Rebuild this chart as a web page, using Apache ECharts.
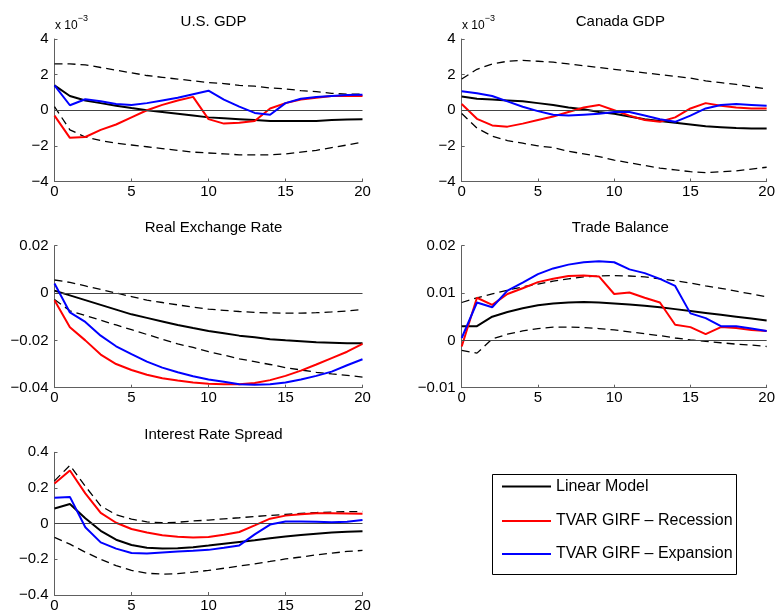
<!DOCTYPE html>
<html>
<head>
<meta charset="utf-8">
<script src="https://cdn.jsdelivr.net/npm/echarts@6/dist/echarts.min.js"></script>
<style>
  html, body { margin: 0; padding: 0; background: #fff; }
  #chart { width: 778px; height: 615px; }
</style>
</head>
<body>
<div id="chart"></div>
<script>
// Impulse horizons (quarters)
const horizons = [0,1,2,3,4,5,6,7,8,9,10,11,12,13,14,15,16,17,18,19,20];

// U.S. GDP (units of 1e-3)
const usLinear = [1.4,0.8,0.55,0.4,0.25,0.12,0.0,-0.1,-0.2,-0.3,-0.4,-0.45,-0.5,-0.55,-0.6,-0.6,-0.6,-0.6,-0.55,-0.52,-0.5];
const usRecession = [-0.3,-1.55,-1.5,-1.1,-0.8,-0.4,0.0,0.3,0.55,0.75,-0.5,-0.75,-0.7,-0.6,0.1,0.4,0.6,0.7,0.8,0.8,0.8];
const usExpansion = [1.4,0.28,0.62,0.5,0.35,0.3,0.4,0.55,0.7,0.9,1.1,0.6,0.2,-0.15,-0.25,0.4,0.65,0.75,0.8,0.85,0.87];
const usUpper = [2.6,2.6,2.55,2.4,2.25,2.1,1.95,1.85,1.75,1.65,1.55,1.5,1.4,1.35,1.25,1.2,1.1,1.05,0.95,0.9,0.9];
const usLower = [0.2,-1.1,-1.5,-1.7,-1.85,-1.95,-2.05,-2.15,-2.25,-2.35,-2.4,-2.45,-2.5,-2.5,-2.5,-2.45,-2.35,-2.25,-2.1,-1.95,-1.78];

// Canada GDP (units of 1e-3)
const caLinear = [0.77,0.65,0.6,0.55,0.5,0.4,0.3,0.15,0.05,-0.1,-0.2,-0.35,-0.5,-0.6,-0.7,-0.8,-0.9,-0.95,-1.0,-1.02,-1.03];
const caRecession = [0.35,-0.48,-0.85,-0.92,-0.75,-0.55,-0.35,-0.1,0.15,0.3,0.0,-0.3,-0.55,-0.65,-0.4,0.1,0.4,0.25,0.15,0.1,0.1];
const caExpansion = [1.07,0.95,0.8,0.5,0.2,-0.05,-0.25,-0.3,-0.25,-0.2,-0.1,-0.1,-0.3,-0.5,-0.65,-0.3,0.1,0.3,0.35,0.3,0.25];
const caUpper = [1.75,2.3,2.6,2.75,2.8,2.75,2.7,2.6,2.5,2.4,2.3,2.2,2.1,2.0,1.9,1.8,1.65,1.55,1.45,1.32,1.2];
const caLower = [-0.18,-1.0,-1.45,-1.7,-1.85,-2.0,-2.1,-2.3,-2.45,-2.6,-2.8,-2.95,-3.1,-3.25,-3.35,-3.45,-3.5,-3.45,-3.4,-3.3,-3.2];

// Real Exchange Rate
const rerLinear = [0.001,-0.001,-0.003,-0.005,-0.007,-0.009,-0.0105,-0.012,-0.0135,-0.0148,-0.016,-0.017,-0.018,-0.0187,-0.0195,-0.02,-0.0204,-0.0208,-0.021,-0.0212,-0.0212];
const rerRecession = [-0.003,-0.0145,-0.02,-0.026,-0.03,-0.0325,-0.0345,-0.036,-0.037,-0.0378,-0.0383,-0.0385,-0.0385,-0.038,-0.0368,-0.035,-0.0328,-0.0302,-0.0275,-0.0248,-0.0215];
const rerExpansion = [0.004,-0.0082,-0.0122,-0.018,-0.0225,-0.0258,-0.029,-0.0315,-0.0335,-0.0352,-0.0365,-0.0375,-0.0385,-0.0388,-0.0385,-0.0378,-0.0365,-0.035,-0.0332,-0.0305,-0.028];
const rerUpper = [0.0055,0.0045,0.003,0.0015,0.0,-0.0015,-0.003,-0.004,-0.005,-0.006,-0.0068,-0.0073,-0.0078,-0.0082,-0.0084,-0.0085,-0.0085,-0.0083,-0.008,-0.0076,-0.007];
const rerLower = [-0.0027,-0.0075,-0.0095,-0.0115,-0.0135,-0.0155,-0.0175,-0.0195,-0.0215,-0.023,-0.0248,-0.0262,-0.0278,-0.029,-0.0302,-0.0315,-0.0325,-0.0335,-0.0342,-0.0348,-0.0355];

// Trade Balance
const tbLinear = [0.003,0.003,0.005,0.006,0.0068,0.0074,0.0078,0.008,0.0081,0.008,0.0078,0.0076,0.0073,0.007,0.0066,0.0062,0.0058,0.0054,0.005,0.0046,0.0042];
const tbRecession = [-0.0013,0.009,0.0075,0.0098,0.011,0.0123,0.013,0.0136,0.0137,0.0135,0.0098,0.0101,0.009,0.008,0.0033,0.0028,0.0013,0.0028,0.0026,0.0022,0.002];
const tbExpansion = [0.0005,0.008,0.007,0.0105,0.0122,0.014,0.0152,0.016,0.0165,0.0167,0.0165,0.015,0.0142,0.013,0.0115,0.0057,0.0047,0.003,0.003,0.0025,0.002];
const tbUpper = [0.008,0.009,0.0098,0.0106,0.0113,0.0119,0.0125,0.013,0.0134,0.0136,0.0137,0.0136,0.0134,0.013,0.0126,0.0121,0.0115,0.011,0.0104,0.0098,0.0092];
const tbLower = [-0.0021,-0.0027,0.0003,0.0013,0.002,0.0025,0.0028,0.0028,0.0027,0.0025,0.0022,0.0018,0.0014,0.001,0.0005,0.0001,-0.0002,-0.0005,-0.0008,-0.001,-0.0013];

// Interest Rate Spread
const irLinear = [0.085,0.11,0.03,-0.04,-0.09,-0.12,-0.135,-0.14,-0.138,-0.132,-0.123,-0.113,-0.103,-0.093,-0.082,-0.072,-0.064,-0.056,-0.05,-0.045,-0.042];
const irRecession = [0.225,0.298,0.17,0.06,0.005,-0.03,-0.05,-0.065,-0.073,-0.078,-0.075,-0.062,-0.047,-0.01,0.028,0.045,0.053,0.058,0.058,0.057,0.055];
const irExpansion = [0.145,0.15,-0.02,-0.105,-0.14,-0.165,-0.168,-0.162,-0.156,-0.152,-0.147,-0.135,-0.122,-0.06,-0.005,0.012,0.012,0.01,0.008,0.01,0.02];
const irUpper = [0.24,0.327,0.21,0.1,0.05,0.025,0.01,0.005,0.008,0.015,0.02,0.027,0.033,0.04,0.046,0.052,0.057,0.062,0.065,0.067,0.068];
const irLower = [-0.077,-0.115,-0.16,-0.2,-0.235,-0.262,-0.278,-0.283,-0.28,-0.272,-0.262,-0.25,-0.238,-0.225,-0.212,-0.198,-0.187,-0.175,-0.165,-0.156,-0.15];

const seriesNames = ['Linear Model', 'TVAR GIRF \u2013 Recession', 'TVAR GIRF \u2013 Expansion'];
const panelTitles = ['U.S. GDP', 'Canada GDP', 'Real Exchange Rate', 'Trade Balance', 'Interest Rate Spread'];
const yMin = [-4, -4, -0.04, -0.01, -0.4];
const yMax = [4, 4, 0.02, 0.02, 0.4];
const yStep = [2, 2, 0.02, 0.01, 0.2];

const panels = [
  [usLinear, usRecession, usExpansion, usUpper, usLower],
  [caLinear, caRecession, caExpansion, caUpper, caLower],
  [rerLinear, rerRecession, rerExpansion, rerUpper, rerLower],
  [tbLinear, tbRecession, tbExpansion, tbUpper, tbLower],
  [irLinear, irRecession, irExpansion, irUpper, irLower]
];

// Plot-area boxes in pixels
const boxes = [
  { left: 54.5, top: 39, width: 308, height: 142.5 },
  { left: 461.7, top: 39, width: 307.3, height: 142.5 },
  { left: 54.5, top: 245.7, width: 308, height: 142 },
  { left: 461.7, top: 245.7, width: 307.3, height: 142 },
  { left: 54.5, top: 452.3, width: 308, height: 142.7 }
];

const FONT = '"Liberation Sans", Arial, Helvetica, sans-serif';
const AXIS_GRAY = '#606060';
const lineColors = ['#000000', '#ff0000', '#0000ff'];

const fmt = v => {
  const r = +(+v).toFixed(4);
  return String(r).replace('-', '\u2212');
};

const grid = boxes.map(b => Object.assign({ containLabel: false }, b));

const xAxis = boxes.map((b, i) => ({
  gridIndex: i, type: 'value', min: 0, max: 20, interval: 5,
  axisLine: { show: true, onZero: false, lineStyle: { color: AXIS_GRAY, width: 1 } },
  axisTick: { show: true, inside: true, length: 3, lineStyle: { color: AXIS_GRAY } },
  splitLine: { show: false },
  axisLabel: { color: '#000', fontSize: 15, fontFamily: FONT, margin: 3, formatter: fmt }
}));

const yAxis = boxes.map((b, i) => ({
  gridIndex: i, type: 'value', min: yMin[i], max: yMax[i], interval: yStep[i],
  axisLine: { show: true, onZero: false, lineStyle: { color: AXIS_GRAY, width: 1 } },
  axisTick: { show: true, inside: true, length: 3, lineStyle: { color: AXIS_GRAY } },
  splitLine: { show: false },
  axisLabel: { color: '#000', fontSize: 15, fontFamily: FONT, margin: 6, formatter: fmt }
}));

const series = [];
panels.forEach((p, i) => {
  const pts = arr => horizons.map((h, k) => [h, arr[k]]);
  // confidence bands (dashed)
  [p[3], p[4]].forEach((band, j) => {
    series.push({
      name: 'band' + i + '_' + j, type: 'line', xAxisIndex: i, yAxisIndex: i,
      data: pts(band), showSymbol: false, symbol: 'none', silent: true,
      lineStyle: { color: '#000', width: 1.3, type: [8, 5] },
      markLine: j === 0 ? {
        silent: true, symbol: 'none', label: { show: false },
        lineStyle: { color: '#444', width: 1, type: 'solid' },
        data: [{ yAxis: 0 }]
      } : undefined,
      z: 2
    });
  });
  [0, 1, 2].forEach(j => {
    series.push({
      name: seriesNames[j], type: 'line', xAxisIndex: i, yAxisIndex: i,
      data: pts(p[j]), showSymbol: false, symbol: 'none',
      lineStyle: { color: lineColors[j], width: 2 },
      itemStyle: { color: lineColors[j] },
      z: 3 + j
    });
  });
});

const title = boxes.map((b, i) => ({
  text: panelTitles[i], left: b.left + b.width / 2, top: b.top - 30, textAlign: 'center',
  textStyle: { fontSize: 15, fontWeight: 'normal', color: '#000', fontFamily: FONT }
}));

// Legend rows: line sample + label
const legendRows = [484, 518.5, 551.5];
const legend = seriesNames.map((n, j) => ({
  data: [n], left: 502, top: legendRows[j] - 9, orient: 'horizontal',
  icon: 'rect', itemWidth: 49, itemHeight: 2, itemGap: 0, itemTextGap: 6,
  selectedMode: false, padding: 0,
  textStyle: { fontSize: 16, color: '#000', fontFamily: FONT, lineHeight: 18, padding: [5, 0, 0, 0] }
}));

// exponent labels above the GDP panels
const expLabel = x => ({
  type: 'text', left: x, top: 14,
  style: {
    text: '{b|x 10}{s|\u22123}',
    rich: {
      b: { fontSize: 12, fontFamily: FONT, fill: '#000', verticalAlign: 'bottom', lineHeight: 18 },
      s: { fontSize: 9, fontFamily: FONT, fill: '#000', verticalAlign: 'top', lineHeight: 18 }
    }
  }
});

const option = {
  animation: false,
  backgroundColor: '#ffffff',
  title, grid, xAxis, yAxis, series, legend,
  graphic: [
    expLabel(55), expLabel(462),
    { type: 'rect', shape: { x: 492.5, y: 474.5, width: 244, height: 100 },
      style: { fill: '#fff', stroke: '#000', lineWidth: 1 }, z: -1 }
  ]
};

const chart = echarts.init(document.getElementById('chart'), null, { renderer: 'canvas' });
chart.setOption(option);
</script>
</body>
</html>
